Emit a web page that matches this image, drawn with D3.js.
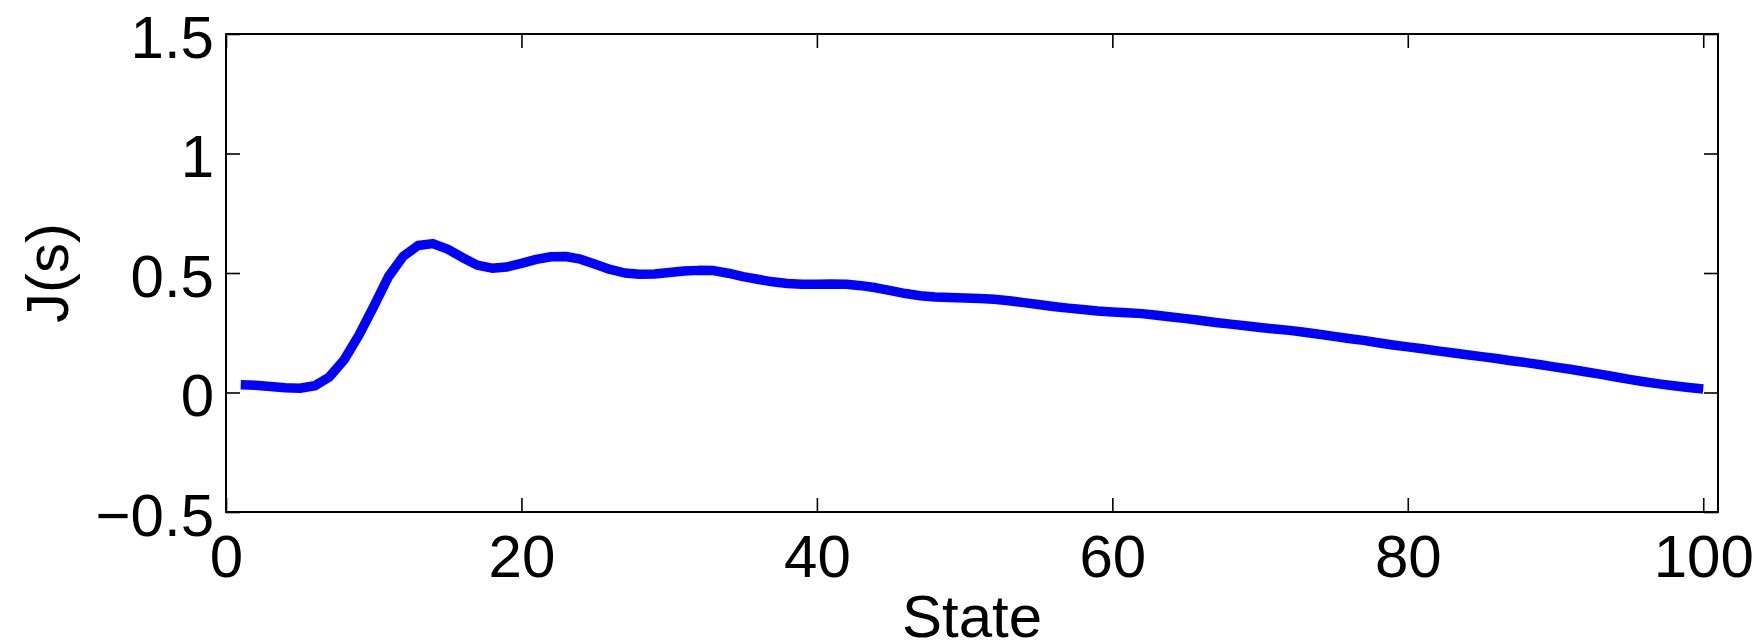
<!DOCTYPE html>
<html>
<head>
<meta charset="utf-8">
<script src="https://cdn.jsdelivr.net/npm/d3@7"></script>
<style>
  html, body { margin: 0; padding: 0; background: #fff; }
  svg { display: block; }
  text { font-family: "Liberation Sans", Arial, Helvetica, sans-serif; fill: #000; }
</style>
</head>
<body>
<svg id="chart" width="1764" height="640"></svg>
<script>
// ---- data ----
const states = d3.range(1, 101);
const values = [
  0.032, 0.030, 0.025, 0.020, 0.018, 0.028, 0.065, 0.137, 0.240, 0.360,
  0.485, 0.570, 0.615, 0.623, 0.600, 0.565, 0.533, 0.520, 0.525, 0.540,
  0.557, 0.568, 0.569, 0.558, 0.537, 0.515, 0.500, 0.495, 0.496, 0.502,
  0.508, 0.511, 0.510, 0.499, 0.485, 0.474, 0.463, 0.456, 0.453, 0.453,
  0.454, 0.453, 0.447, 0.438, 0.426, 0.414, 0.405, 0.400, 0.397, 0.395,
  0.393, 0.390, 0.384, 0.376, 0.368, 0.360, 0.353, 0.347, 0.341, 0.337,
  0.334, 0.330, 0.323, 0.316, 0.309, 0.301, 0.293, 0.286, 0.279, 0.272,
  0.266, 0.260, 0.252, 0.244, 0.235, 0.226, 0.218, 0.208, 0.199, 0.191,
  0.183, 0.174, 0.166, 0.158, 0.150, 0.142, 0.133, 0.125, 0.116, 0.106,
  0.097, 0.087, 0.077, 0.066, 0.055, 0.045, 0.036, 0.028, 0.021, 0.015
];
const xTicks = [0, 20, 40, 60, 80, 100];
const yTicks = [-0.5, 0, 0.5, 1, 1.5];
const xDomain = [0, 101];
const yDomain = [-0.5, 1.5];
const xLabel = "State";
const yLabel = "J(s)";

// ---- layout ----
const pLeft = 226, pRight = 1718, pTop = 34, pBottom = 512;
const svg = d3.select("#chart");
const x = d3.scaleLinear().domain(xDomain).range([pLeft, pRight]);
const y = d3.scaleLinear().domain(yDomain).range([pBottom, pTop]);
const tickLen = 14;
const fmt = v => (v < 0 ? "\u2212" + Math.abs(v) : String(v));

// line
const line = d3.line().x((d, i) => x(states[i])).y(d => y(d));
svg.append("path")
  .datum(values)
  .attr("d", line)
  .attr("fill", "none")
  .attr("stroke", "#0000ff")
  .attr("stroke-width", 9.5)
  .attr("stroke-linejoin", "round")
  .attr("stroke-linecap", "butt");

// axes (inward ticks on all four sides)
const axB = d3.axisBottom(x).tickValues(xTicks).tickSize(-tickLen).tickFormat(fmt);
const axT = d3.axisTop(x).tickValues(xTicks).tickSize(-tickLen).tickFormat("");
const axL = d3.axisLeft(y).tickValues(yTicks).tickSize(-tickLen).tickFormat(fmt);
const axR = d3.axisRight(y).tickValues(yTicks).tickSize(-tickLen).tickFormat("");

function style(g) {
  g.select(".domain").remove();
  g.selectAll(".tick line").attr("stroke", "#000").attr("stroke-width", 1.6);
  g.selectAll(".tick text").attr("font-size", 60).attr("fill", "#000")
    .style("font-family", '"Liberation Sans", Arial, Helvetica, sans-serif');
}
svg.append("g").attr("transform", `translate(0,${pBottom})`).call(axB).call(style)
  .selectAll(".tick text").attr("dy", "0").attr("y", 65);
svg.append("g").attr("transform", `translate(0,${pTop})`).call(axT).call(style);
svg.append("g").attr("transform", `translate(${pLeft},0)`).call(axL).call(style)
  .selectAll(".tick text").attr("dy", "0").attr("y", 23).attr("x", -12);
svg.append("g").attr("transform", `translate(${pRight},0)`).call(axR).call(style);

// frame
svg.append("rect")
  .attr("x", pLeft).attr("y", pTop)
  .attr("width", pRight - pLeft).attr("height", pBottom - pTop)
  .attr("fill", "none").attr("stroke", "#000").attr("stroke-width", 2);

// labels
svg.append("text")
  .attr("x", (pLeft + pRight) / 2).attr("y", 637)
  .attr("text-anchor", "middle").attr("font-size", 60)
  .text(xLabel);
svg.append("text")
  .attr("transform", `translate(68,${(pTop + pBottom) / 2}) rotate(-90)`)
  .attr("text-anchor", "middle").attr("font-size", 60)
  .text(yLabel);
</script>
</body>
</html>
